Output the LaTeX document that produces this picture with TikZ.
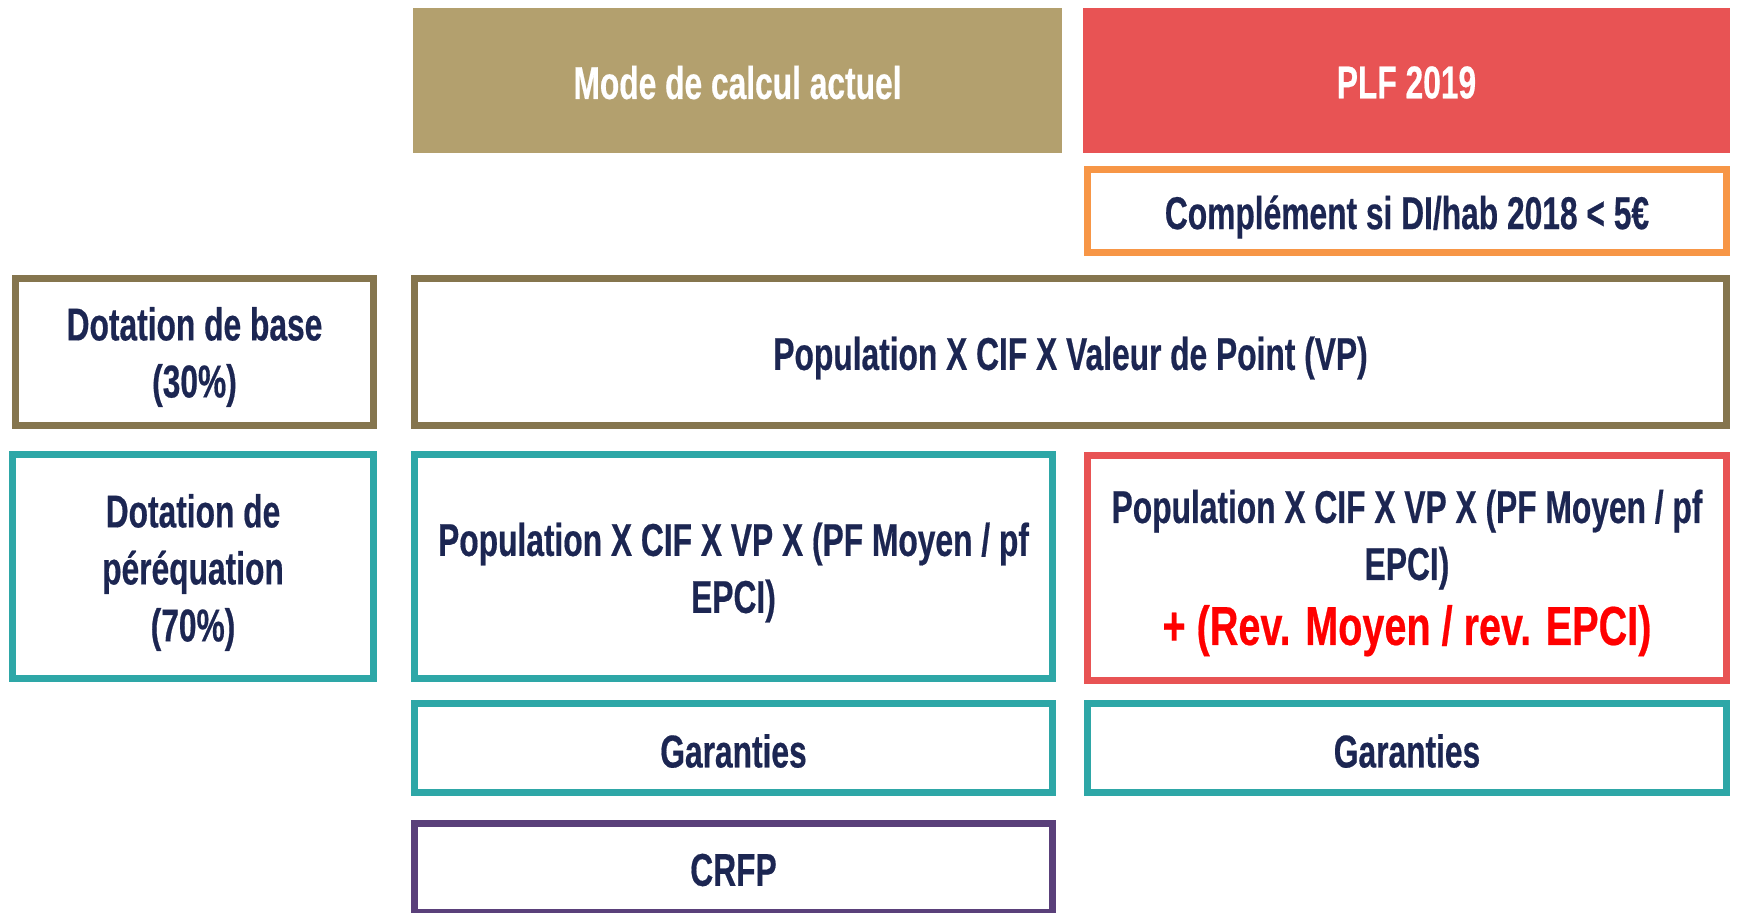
\documentclass[tikz,border=0pt]{standalone}
\usepackage{fontspec}
\setmainfont{Liberation Sans}[FakeStretch=0.69, BoldFeatures={FakeBold=0.4}]
\newfontfamily\redfont{Liberation Sans}[FakeStretch=0.72, BoldFeatures={FakeBold=0.4}]
\definecolor{tanfill}{RGB}{179,160,110}
\definecolor{plfred}{RGB}{232,83,84}
\definecolor{orangeb}{RGB}{247,150,70}
\definecolor{oliveb}{RGB}{133,117,78}
\definecolor{tealb}{RGB}{46,167,167}
\definecolor{purpleb}{RGB}{90,64,122}
\definecolor{navytxt}{RGB}{28,38,82}
\definecolor{redtxt}{RGB}{255,0,0}
\begin{document}
\begin{tikzpicture}[x=1pt,y=-1pt,
  every node/.style={inner sep=0pt},
  txt/.style={font=\bfseries\fontsize{46}{57}\selectfont, text=navytxt, align=center, yshift=-6pt},
  hdr/.style={fill=#1},
  bx/.style={draw=#1, line width=7pt, fill=white}]
\useasboundingbox[fill=white] (0,0) rectangle (1738,913);
% headers
\node[hdr=tanfill, minimum width=649pt, minimum height=145pt] (mode) at (737.5,80.5) {};
\node[txt, text=white, yshift=4pt] (modet) at (mode.center) {Mode de calcul actuel};
\node[hdr=plfred, minimum width=647pt, minimum height=145pt] (plf) at (1406.5,80.5) {};
\node[txt, text=white, yshift=4pt] (plft) at (plf.center) {PLF 2019};
% complement
\node[bx=orangeb, minimum width=639pt, minimum height=83pt] (compl) at (1407,211) {};
\node[txt] (complt) at (compl.center) {Complément si DI/hab 2018 < 5€};
% row base
\node[bx=oliveb, minimum width=358pt, minimum height=147pt] (dbase) at (194.5,352) {};
\node[txt, yshift=1pt] (dbaset) at (dbase.center) {Dotation de base\\(30\%)};
\node[bx=oliveb, minimum width=1312pt, minimum height=147pt] (popvp) at (1070.5,352) {};
\node[txt] (popvpt) at (popvp.center) {Population X CIF X Valeur de Point (VP)};
% row perequation
\node[bx=tealb, minimum width=361pt, minimum height=224pt] (dper) at (193,566.5) {};
\node[txt] (dpert) at (dper.center) {Dotation de\\péréquation\\(70\%)};
\node[bx=tealb, minimum width=638pt, minimum height=224pt] (popmid) at (733.5,566.5) {};
\node[txt] (popmidt) at (popmid.center) {Population X CIF X VP X (PF Moyen / pf\\EPCI)};
\node[bx=plfred, minimum width=639pt, minimum height=225pt] (popright) at (1407,568) {};
\node[txt, yshift=1pt] (poprightt) at (popright.center) {Population X CIF X VP X (PF Moyen / pf\\EPCI)\\[8pt]{\redfont\bfseries\fontsize{55}{66}\selectfont\color{redtxt}+ (Rev. Moyen / rev. EPCI)}};
% garanties
\node[bx=tealb, minimum width=638pt, minimum height=89pt] (garl) at (733.5,748) {};
\node[txt, yshift=3pt] (garlt) at (garl.center) {Garanties};
\node[bx=tealb, minimum width=639pt, minimum height=89pt] (garr) at (1407,748) {};
\node[txt, yshift=3pt] (garrt) at (garr.center) {Garanties};
% CRFP
\node[bx=purpleb, minimum width=638pt, minimum height=89pt] (crfp) at (733.5,868) {};
\node[txt, yshift=4pt] (crfpt) at (crfp.center) {CRFP};
\end{tikzpicture}
\end{document}
